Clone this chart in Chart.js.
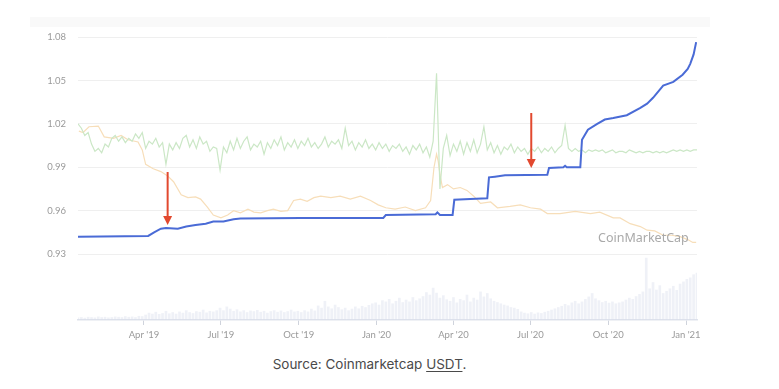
<!DOCTYPE html>
<html>
<head>
<meta charset="utf-8">
<script src="https://cdn.jsdelivr.net/npm/chart.js@4.4.1/dist/chart.umd.min.js"></script>
<style>
body { margin: 0; background: #fff; }
#wrap { position: relative; width: 779px; height: 389px; }
#band { position: absolute; left: 30px; top: 17px; width: 680px; height: 10px; background: #f9f9f9; }
#mycanvas { position: absolute; left: 0; top: 0; }
#wm { position: absolute; left: 598px; top: 229px; font: 12.5px "Noto Sans", sans-serif; color: #a9a9a9; }
#cap { position: absolute; left: 0; width: 739px; top: 356px; text-align: center; font: 13.5px Inter, "Noto Sans", sans-serif; color: #4a4a4a; }
#cap u { text-underline-offset: 2px; }
</style>
</head>
<body>
<div id="wrap">
	<div id="band"></div>
	<canvas id="mycanvas" width="779" height="350"></canvas>
	<div id="wm">CoinMarketCap</div>
	<div id="cap">Source: Coinmarketcap <u>USDT</u>.</div>
</div>
<script>
// x values are days counted from 1 Jan 2019
var firstDay = 12;
var lastDay = 744;
var step = 4;

var quarterDays = [90, 181, 273, 365, 456, 547, 639, 731];
var quarterLabels = ["Apr '19", "Jul '19", "Oct '19", "Jan '20", "Apr '20", "Jul '20", "Oct '20", "Jan '21"];
var priceTicks = [0.93, 0.96, 0.99, 1.02, 1.05, 1.08];

// price, one value every 4 days
var price = [
	1.020, 1.017, 1.012, 1.014, 1.006, 1.001, 1.003, 1.000, 1.006, 1.004,
	1.010, 1.012, 1.008, 1.011, 1.007, 1.010, 1.008, 1.013, 1.010, 1.014,
	1.003, 1.008, 1.006, 1.010, 1.004, 1.007, 0.992, 1.006, 1.002, 1.007,
	1.003, 1.010, 1.012, 1.004, 1.009, 1.003, 1.011, 1.006, 1.008, 1.001,
	1.004, 1.003, 0.988, 1.004, 1.000, 1.008, 1.002, 1.010, 1.003, 1.008,
	1.011, 1.002, 1.006, 1.004, 1.008, 0.999, 1.007, 1.003, 1.009, 1.005,
	1.011, 1.002, 1.007, 1.004, 1.009, 1.003, 1.008, 1.005, 1.010, 1.004,
	1.007, 1.003, 1.006, 1.011, 1.004, 1.008, 1.006, 1.009, 1.003, 1.017,
	1.005, 1.008, 1.002, 1.007, 1.004, 1.009, 1.003, 1.006, 1.002, 1.007,
	1.003, 1.006, 1.001, 1.005, 1.003, 1.006, 1.001, 1.004, 0.999, 1.005,
	1.002, 1.006, 1.000, 1.004, 0.997, 1.008, 1.055, 0.975, 1.003, 1.012,
	0.998, 1.006, 1.001, 1.008, 0.999, 1.007, 1.001, 1.009, 1.000, 1.006,
	1.018, 1.002, 1.007, 1.000, 1.005, 0.999, 1.004, 1.002, 1.006, 1.000,
	1.004, 1.001, 1.003, 0.999, 1.003, 1.001, 1.004, 1.000, 1.003, 1.001,
	1.004, 1.000, 1.003, 1.005, 1.019, 1.003, 1.001, 1.003, 1.001, 1.002,
	1.000, 1.002, 1.001, 1.002, 1.001, 1.002, 1.000, 1.001, 1.002, 1.000,
	1.001, 1.001, 1.000, 1.002, 1.001, 1.000, 1.001, 1.000, 1.001, 1.001,
	1.000, 1.001, 1.000, 1.001, 1.000, 1.001, 1.002, 1.001, 1.002, 1.001,
	1.002, 1.001, 1.002, 1.002
];

// volume in billions USD, one value every 4 days
var volume = [
	7, 8, 6, 9, 8, 7, 10, 8, 9, 7, 8, 10, 9, 8, 11, 9, 10, 8, 12, 11,
	16, 22, 19, 25, 18, 21, 28, 20, 24, 19, 26, 22, 30, 24, 21, 27, 25, 32, 23, 28, 26, 30,
	38, 30, 42, 35, 28, 33, 26, 30, 24, 29, 27, 31, 25, 28, 22, 27, 30, 25, 29, 24, 27, 32, 26,
	28, 24, 30, 26, 35, 29, 45, 38, 60, 42, 36, 48, 40, 33, 38, 30, 35, 42, 36, 44, 40, 47, 52,
	55, 48, 62, 58, 66, 52, 60, 70, 56, 64, 58, 72, 62, 68, 75, 88, 80, 102, 86, 70, 78, 65,
	60, 72, 55, 66, 62, 80, 58, 70, 64, 90, 74, 85, 68, 60, 56, 52, 48, 45, 40, 38, 34,
	26, 22, 20, 24, 19, 23, 21, 25, 28, 32, 36, 40,
	44, 50, 46, 55, 60, 52, 58, 66, 74, 85, 68, 62, 56, 60, 54, 58, 52, 55,
	58, 64, 70, 66, 75, 82, 90, 198, 100, 120, 96, 110, 85, 92, 100, 108, 95, 115, 122, 130, 135, 145, 150
];

// market cap line, read against the price axis
var capDays = [12, 95, 102, 110, 116, 130, 140, 151, 163, 172, 184, 196, 204, 240, 275, 322, 373, 376,
	435, 437, 440, 455, 457, 476, 496, 498, 505, 517, 567, 569, 586, 588, 590, 606, 608, 615,
	626, 635, 645, 661, 677, 685, 692, 704, 716, 727, 733, 736, 740, 743];
var capVals = [0.942, 0.9425, 0.945, 0.9475, 0.948, 0.9475, 0.949, 0.950, 0.951, 0.9525, 0.9525, 0.954, 0.9545, 0.9548, 0.955, 0.955, 0.955, 0.957,
	0.9575, 0.9588, 0.957, 0.957, 0.9675, 0.968, 0.9685, 0.983, 0.9835, 0.9845, 0.9848, 0.9895, 0.990, 0.991, 0.990, 0.990, 1.009, 1.016,
	1.020, 1.023, 1.024, 1.026, 1.031, 1.034, 1.038, 1.0465, 1.049, 1.054, 1.058, 1.0615, 1.068, 1.0765];

// price in BTC line, read against the price axis
var btcDays = [13, 18, 25, 36, 43, 54, 63, 71, 83, 88, 92, 101, 110, 118, 125, 134, 142, 151, 157, 165,
	172, 181, 189, 196, 204, 213, 220, 228, 236, 243, 252, 260, 267, 275, 283, 291, 299, 311, 322, 334,
	346, 358, 367, 376, 387, 399, 411, 423, 429, 433, 436, 438, 440, 443, 449, 456, 464, 472, 480, 488,
	500, 508, 523, 535, 547, 559, 567, 582, 600, 618, 629, 645, 653, 665, 677, 685, 694, 704, 714, 724,
	733, 739, 743];
var btcVals = [1.015, 1.014, 1.018, 1.0185, 1.011, 1.010, 1.012, 1.009, 1.0075, 1.002, 0.992, 0.989, 0.987, 0.984, 0.980, 0.971, 0.969, 0.9695, 0.968, 0.9625,
	0.957, 0.955, 0.957, 0.960, 0.9585, 0.961, 0.959, 0.9585, 0.960, 0.961, 0.9595, 0.960, 0.967, 0.968, 0.9665, 0.969, 0.970, 0.969, 0.970, 0.968,
	0.970, 0.967, 0.964, 0.962, 0.961, 0.9625, 0.960, 0.962, 0.967, 0.990, 0.999, 0.994, 0.985, 0.976, 0.978, 0.975, 0.976, 0.974, 0.970, 0.965,
	0.966, 0.962, 0.963, 0.964, 0.962, 0.961, 0.958, 0.958, 0.9595, 0.958, 0.959, 0.955, 0.955, 0.951, 0.949, 0.9465, 0.946, 0.943, 0.943, 0.942,
	0.940, 0.938, 0.938];

// red arrows: day, start value, tip value
var arrowDays = [118, 548];
var arrowFrom = [0.9867, 1.0275];
var arrowTo = [0.950, 0.9894];

function pairs(xs, ys) {
	var out = [];
	for (var i in ys) {
		out.push({x: xs[i], y: ys[i]});
	}
	return out;
}

var priceData = [];
var volumeData = [];
for (var i = 0; i < price.length; i++) {
	priceData.push({x: firstDay + i * step, y: price[i]});
	volumeData.push({x: firstDay + i * step, y: volume[i]});
}

var arrowPlugin = {
	id: 'arrows',
	afterDatasetsDraw: function(chart) {
		var ctx = chart.ctx;
		var xs = chart.scales.x;
		var ys = chart.scales.y;
		ctx.save();
		ctx.strokeStyle = '#e2492f';
		ctx.fillStyle = '#e2492f';
		ctx.lineWidth = 2;
		for (var i in arrowDays) {
			var x = xs.getPixelForValue(arrowDays[i]);
			var y0 = ys.getPixelForValue(arrowFrom[i]);
			var y1 = ys.getPixelForValue(arrowTo[i]);
			ctx.beginPath();
			ctx.moveTo(x, y0);
			ctx.lineTo(x, y1 - 7);
			ctx.stroke();
			ctx.beginPath();
			ctx.moveTo(x - 4.5, y1 - 9);
			ctx.lineTo(x + 4.5, y1 - 9);
			ctx.lineTo(x, y1);
			ctx.closePath();
			ctx.fill();
		}
		ctx.restore();
	}
};

var tickFont = {family: 'Lato, "Open Sans", sans-serif', size: 9.5};

var chart = new Chart(document.getElementById('mycanvas'), {
	type: 'line',
	data: {
		datasets: [
			{
				label: 'Market Cap',
				data: pairs(capDays, capVals),
				borderColor: '#4a6bd6',
				borderWidth: 2,
				pointRadius: 0,
				order: 1
			},
			{
				label: 'Price',
				data: priceData,
				borderColor: '#cbe7c6',
				borderWidth: 1.2,
				pointRadius: 0,
				order: 2
			},
			{
				label: 'Price (BTC)',
				data: pairs(btcDays, btcVals),
				borderColor: '#f7deb9',
				borderWidth: 1.2,
				pointRadius: 0,
				order: 3
			},
			{
				type: 'bar',
				label: 'Volume',
				data: volumeData,
				yAxisID: 'y2',
				backgroundColor: 'rgba(215, 219, 234, 0.4)',
				barThickness: 2,
				order: 4
			}
		]
	},
	options: {
		responsive: false,
		animation: false,
		layout: {padding: {left: 0, right: 82, top: 20, bottom: 0}},
		plugins: {legend: {display: false}, tooltip: {enabled: false}},
		scales: {
			x: {
				type: 'linear',
				offset: false,
				min: firstDay,
				max: lastDay,
				afterBuildTicks: function(axis) {
					axis.ticks = quarterDays.map(function(v) { return {value: v}; });
				},
				afterFit: function(axis) { axis.height = 30; },
				ticks: {
					autoSkip: false,
					maxRotation: 0,
					color: '#9a9a9a',
					font: tickFont,
					padding: 4,
					callback: function(v, i) { return quarterLabels[i]; }
				},
				grid: {offset: false, drawOnChartArea: false, drawTicks: true, tickLength: 5, color: '#cfd3dc'},
				border: {color: '#dfe3ec', width: 1.5}
			},
			y: {
				min: 0.8844,
				max: 1.0918,
				afterBuildTicks: function(axis) {
					axis.ticks = priceTicks.map(function(v) { return {value: v}; });
				},
				afterFit: function(axis) { axis.width = 78; },
				ticks: {
					color: '#9a9a9a',
					font: tickFont,
					padding: 12,
					callback: function(v) { return v.toFixed(2); }
				},
				grid: {color: '#efefef', drawTicks: false},
				border: {display: false}
			},
			y2: {
				display: false,
				min: 0,
				max: 960
			}
		}
	},
	plugins: [arrowPlugin]
});
</script>
</body>
</html>
